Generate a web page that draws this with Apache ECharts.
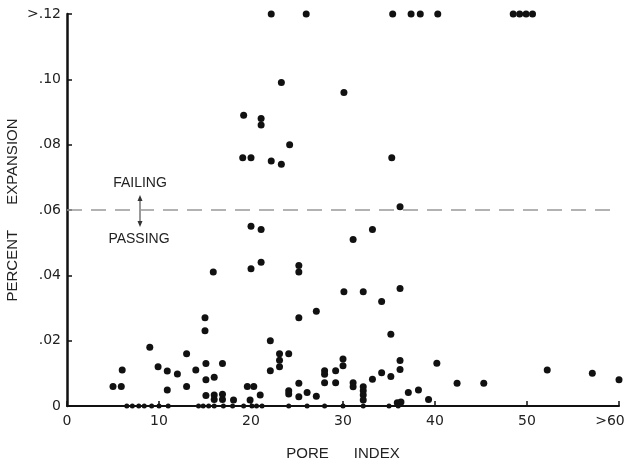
<!DOCTYPE html>
<html>
<head>
<meta charset="utf-8">
<script src="https://cdn.jsdelivr.net/npm/echarts@6/dist/echarts.min.js"></script>
<style>
  html, body { margin: 0; padding: 0; background: #fff; }
  #chart { width: 629px; height: 460px; }
</style>
</head>
<body>
<div id="chart"></div>
<script>
// pore index (x) and percent expansion (y)
const poreIndex = [
  // top row (>.12)
  22.2, 26, 35.4, 37.4, 38.4, 40.3, 48.5, 49.2, 49.9, 50.6,
  // failing
  23.3, 30.1, 19.2, 21.1, 21.1, 24.2, 19.1, 20.0, 22.2, 23.3, 35.3, 36.2,
  // middle
  20.0, 21.1, 31.1, 33.2, 21.1, 20.0, 15.9, 25.2, 25.2, 30.1, 32.2, 36.2,
  34.2, 27.1, 25.2, 15.0, 15.0, 35.2, 22.1,
  // lower
  9.0, 6.0, 5.0, 5.9, 9.9, 10.9, 12.0, 10.9, 13.0, 13.0, 14.0, 15.1, 15.1,
  15.1, 16.9, 16.0, 16.0, 16.0, 16.9, 16.9, 18.1, 19.6, 20.3, 19.9, 21.0,
  22.1, 23.1, 23.1, 23.1, 24.1, 24.1, 24.1, 25.2, 25.2, 26.1, 27.1, 28.0,
  28.0, 28.0, 29.2, 29.2, 30.0, 30.0, 31.1, 31.1, 32.2, 32.2, 32.2, 32.2,
  33.2, 34.2, 35.2, 36.2, 36.2, 37.1, 38.2, 39.3, 40.2, 42.4, 45.3, 52.2,
  57.1, 60, 35.9, 36.3,
  // zero row
  6.5, 7.1, 7.8, 8.4, 9.2, 10.0, 11.0, 14.3, 14.8, 15.4, 16.0, 17.0, 18.0,
  19.2, 20.1, 20.6, 21.2, 24.1, 26.1, 28.0, 30.0, 32.2, 35.0, 36.0
];
const expansion = [
  0.12, 0.12, 0.12, 0.12, 0.12, 0.12, 0.12, 0.12, 0.12, 0.12,
  0.099, 0.096, 0.089, 0.088, 0.086, 0.080, 0.076, 0.076, 0.075, 0.074, 0.076, 0.061,
  0.055, 0.054, 0.051, 0.054, 0.044, 0.042, 0.041, 0.043, 0.041, 0.035, 0.035, 0.036,
  0.032, 0.029, 0.027, 0.027, 0.023, 0.022, 0.020,
  0.018, 0.011, 0.006, 0.006, 0.012, 0.0107, 0.0098, 0.0049, 0.016, 0.006, 0.011, 0.013, 0.008,
  0.0032, 0.013, 0.0088, 0.0034, 0.0020, 0.0036, 0.0020, 0.0018, 0.006, 0.006, 0.0018, 0.0034,
  0.0108, 0.016, 0.014, 0.012, 0.016, 0.0047, 0.0037, 0.007, 0.0028, 0.0041, 0.003, 0.0108,
  0.0097, 0.0071, 0.0108, 0.0071, 0.0144, 0.0123, 0.0071, 0.0059, 0.0059, 0.0047, 0.0034, 0.0018,
  0.0082, 0.0102, 0.009, 0.0139, 0.0112, 0.0041, 0.0049, 0.002, 0.0131, 0.007, 0.007, 0.011,
  0.010, 0.008, 0.001, 0.0012,
  0, 0, 0, 0, 0, 0, 0, 0, 0, 0, 0, 0, 0,
  0, 0, 0, 0, 0, 0, 0, 0, 0, 0, 0
];
const xTicks = ['0', '10', '20', '30', '40', '50', '>60'];
const yTicks = ['0', '.02', '.04', '.06', '.08', '.10', '>.12'];
const failLimit = 0.06;

const points = poreIndex.map((x, i) => [x, expansion[i]]);

const chart = echarts.init(document.getElementById('chart'));
const font = 'DejaVu Sans';
const nameFont = 'Liberation Sans';

chart.setOption({
  animation: false,
  backgroundColor: '#fff',
  grid: { left: 67, right: 10, top: 14, bottom: 54, outerBoundsMode: 'none', containLabel: false },
  xAxis: {
    type: 'value',
    min: 0,
    max: 60,
    interval: 10,
    name: 'PORE      INDEX',
    nameLocation: 'middle',
    nameGap: 40,
    nameMoveOverlap: false,
    nameTextStyle: { color: '#222', fontFamily: nameFont, fontSize: 15 },
    axisLine: { lineStyle: { color: '#111', width: 2 } },
    axisTick: { inside: true, length: 5, lineStyle: { color: '#111', width: 1.5 } },
    axisLabel: {
      color: '#222', fontFamily: font, fontSize: 14, margin: 8,
      // the last label sits a little left of its tick in the original
      formatter: v => (v === 60 ? '{last|' + xTicks[6] + '}' : xTicks[v / 10]),
      rich: { last: { color: '#222', fontFamily: font, fontSize: 14, padding: [0, 18, 0, 0] } }
    },
    splitLine: { show: false }
  },
  yAxis: {
    type: 'value',
    min: 0,
    max: 0.12,
    interval: 0.02,
    name: 'PERCENT      EXPANSION',
    nameLocation: 'middle',
    nameGap: 47,
    nameMoveOverlap: false,
    nameTextStyle: { color: '#222', fontFamily: nameFont, fontSize: 15 },
    axisLine: { show: true, lineStyle: { color: '#111', width: 2.5 } },
    axisTick: { show: true, inside: true, length: 5, lineStyle: { color: '#111', width: 1.5 } },
    axisLabel: {
      color: '#222', fontFamily: font, fontSize: 14, margin: 6,
      formatter: v => yTicks[Math.round(v / 0.02)]
    },
    splitLine: { show: false }
  },
  series: [
    {
      type: 'scatter',
      data: points,
      clip: false,
      symbolSize: d => (d[1] === 0 ? 5 : 7),
      itemStyle: { color: '#111', opacity: 1 },
      markLine: {
        silent: true,
        symbol: 'none',
        label: { show: false },
        lineStyle: { color: '#999', type: [15, 9], width: 1.5 },
        data: [{ yAxis: failLimit }]
      }
    }
  ],
  graphic: [
    { type: 'text', style: { x: 140, y: 183, text: 'FAILING', align: 'center', verticalAlign: 'middle', fill: '#222', font: '14px ' + nameFont } },
    { type: 'text', style: { x: 139, y: 239, text: 'PASSING', align: 'center', verticalAlign: 'middle', fill: '#222', font: '14px ' + nameFont } },
    { type: 'line', shape: { x1: 140, y1: 197, x2: 140, y2: 225 }, style: { stroke: '#333', lineWidth: 1 } },
    { type: 'polygon', shape: { points: [[137.5, 201], [142.5, 201], [140, 195]] }, style: { fill: '#333' } },
    { type: 'polygon', shape: { points: [[137.5, 221], [142.5, 221], [140, 227]] }, style: { fill: '#333' } }
  ]
});

window.addEventListener('resize', () => chart.resize());
</script>
</body>
</html>
